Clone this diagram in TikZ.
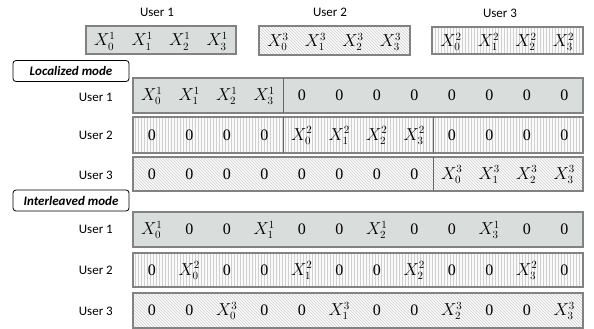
\documentclass[tikz,border=0pt]{standalone}
\usepackage{fontspec}
\setmainfont{Carlito}
\usepackage{tikz}
\usetikzlibrary{patterns}
\definecolor{boxfill}{RGB}{217,222,221}
\definecolor{boxline}{RGB}{130,130,130}
\definecolor{hatch}{RGB}{208,208,208}
\newfontfamily\cellfont{Liberation Serif}
\tikzset{
  solidrow/.style={draw=boxline,line width=1.3pt,fill=boxfill},
  vrow/.style={draw=boxline,line width=1.3pt,preaction={fill=gray!4},pattern=vertical lines,pattern color=hatch},
  drow/.style={draw=boxline,line width=1.3pt,preaction={fill=gray!4},pattern=north west lines,pattern color=hatch},
  divider/.style={draw=black!60,line width=0.7pt},
  cell/.style={font=\cellfont\fontsize{16}{18}\selectfont,inner sep=0pt,anchor=base},
  user/.style={font=\fontsize{13}{15}\selectfont,inner sep=0pt,anchor=base},
  mode/.style={draw,rounded corners=3pt,line width=0.8pt,font=\fontsize{13}{15}\selectfont\bfseries\itshape,minimum width=116pt,minimum height=21pt,inner sep=0pt}
}

\begin{document}
\begin{tikzpicture}[x=1pt,y=-1pt]
\useasboundingbox (0,0) rectangle (594,329);

% the three users' blocks
\node[user] (uone) at (157,17) {User 1};
\node[user] (utwo) at (330,17) {User 2};
\node[user] (uthree) at (500,18) {User 3};
\draw[solidrow] (86,26) rectangle (236,54);
\draw[drow] (259,26) rectangle (410,55);
\draw[vrow] (432,27) rectangle (583,54);
\foreach \t [count=\i from 0] in {$X_0^1$,$X_1^1$,$X_2^1$,$X_3^1$}
  \node[cell] (bone\i) at (104.75+37.5*\i,46) {\t};
\foreach \t [count=\i from 0] in {$X_0^3$,$X_1^3$,$X_2^3$,$X_3^3$}
  \node[cell] (btwo\i) at (278+37.5*\i,46.5) {\t};
\foreach \t [count=\i from 0] in {$X_0^2$,$X_1^2$,$X_2^2$,$X_3^2$}
  \node[cell] (bthree\i) at (451+37.5*\i,46.5) {\t};

% localized mode
\node[mode] (loc) at (71,71) {Localized mode};
\node[user,anchor=base east] (locone) at (113,101) {User 1};
\node[user,anchor=base east] (loctwo) at (113,139) {User 2};
\node[user,anchor=base east] (locthree) at (113,179) {User 3};
\draw[solidrow] (133,78) rectangle (583,113);
\draw[vrow] (133,117) rectangle (583,153);
\draw[drow] (133,157) rectangle (583,191);
\draw[divider] (283,78) -- (283,113);
\draw[divider] (283,117) -- (283,153);
\draw[divider] (433,117) -- (433,153);
\draw[divider] (433,157) -- (433,191);
\foreach \t [count=\i from 0] in {$X_0^1$,$X_1^1$,$X_2^1$,$X_3^1$,0,0,0,0,0,0,0,0}
  \node[cell] (la\i) at (151.75+37.5*\i,100.5) {\t};
\foreach \t [count=\i from 0] in {0,0,0,0,$X_0^2$,$X_1^2$,$X_2^2$,$X_3^2$,0,0,0,0}
  \node[cell] (lb\i) at (151.75+37.5*\i,140) {\t};
\foreach \t [count=\i from 0] in {0,0,0,0,0,0,0,0,$X_0^3$,$X_1^3$,$X_2^3$,$X_3^3$}
  \node[cell] (lc\i) at (151.75+37.5*\i,179) {\t};

% interleaved mode
\node[mode] (intl) at (71,200.5) {Interleaved mode};
\node[user,anchor=base east] (intone) at (113,233) {User 1};
\node[user,anchor=base east] (inttwo) at (113,274) {User 2};
\node[user,anchor=base east] (intthree) at (113,315) {User 3};
\draw[solidrow] (133,212) rectangle (583,247);
\draw[vrow] (133,253) rectangle (583,287);
\draw[drow] (133,293) rectangle (583,328);
\foreach \t [count=\i from 0] in {$X_0^1$,0,0,$X_1^1$,0,0,$X_2^1$,0,0,$X_3^1$,0,0}
  \node[cell] (ia\i) at (151.75+37.5*\i,234.5) {\t};
\foreach \t [count=\i from 0] in {0,$X_0^2$,0,0,$X_1^2$,0,0,$X_2^2$,0,0,$X_3^2$,0}
  \node[cell] (ib\i) at (151.75+37.5*\i,275) {\t};
\foreach \t [count=\i from 0] in {0,0,$X_0^3$,0,0,$X_1^3$,0,0,$X_2^3$,0,0,$X_3^3$}
  \node[cell] (ic\i) at (151.75+37.5*\i,315.5) {\t};

\end{tikzpicture}
\end{document}
